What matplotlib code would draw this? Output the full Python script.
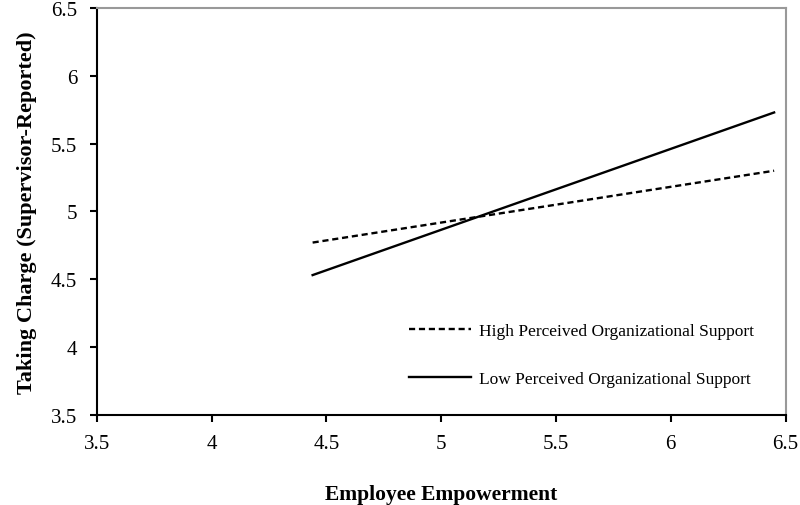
import matplotlib.pyplot as plt

plt.rcParams['font.family'] = ['Liberation Serif', 'DejaVu Serif']

# simple slopes, +/- 1 SD of empowerment
x_vals = [4.44, 6.45]
high_pos = [4.77, 5.30]
low_pos = [4.53, 5.73]

labels = ['High Perceived Organizational Support', 'Low Perceived Organizational Support']
ticks = [3.5, 4, 4.5, 5, 5.5, 6, 6.5]
tick_labels = ['3.5', '4', '4.5', '5', '5.5', '6', '6.5']

fig = plt.figure(figsize=(8, 5.06), dpi=100)
ax = fig.add_axes([0.121, 0.1785, 0.861, 0.8035])

ax.plot(x_vals, high_pos, color='black', lw=1.7, linestyle=(0, (2.6, 1.6)), label=labels[0])
ax.plot(x_vals, low_pos, color='black', lw=1.7, label=labels[1])

ax.set_xlim(3.5, 6.5)
ax.set_ylim(3.5, 6.5)
ax.set_xticks(ticks)
ax.set_xticklabels(tick_labels)
ax.set_yticks(ticks)
ax.set_yticklabels(tick_labels)
ax.tick_params(direction='out', length=5, width=1.5, labelsize=15, colors='black')
ax.tick_params(axis='x', pad=9)
ax.tick_params(axis='y', pad=9)

for s in ['left', 'bottom']:
    ax.spines[s].set_color('black')
    ax.spines[s].set_linewidth(1.5)
for s in ['top', 'right']:
    ax.spines[s].set_color('#999999')
    ax.spines[s].set_linewidth(1.5)

ax.set_xlabel('Employee Empowerment', fontsize=15.5, fontweight='bold', labelpad=22)
ax.set_ylabel('Taking Charge (Supervisor-Reported)', fontsize=16, fontweight='bold', labelpad=10)

ax.legend(loc='upper left', bbox_to_anchor=(0.43, 0.265), frameon=False, fontsize=12.5,
          handlelength=3.6, handletextpad=0.45, labelspacing=1.85)

fig.savefig('out.png', dpi=100)
